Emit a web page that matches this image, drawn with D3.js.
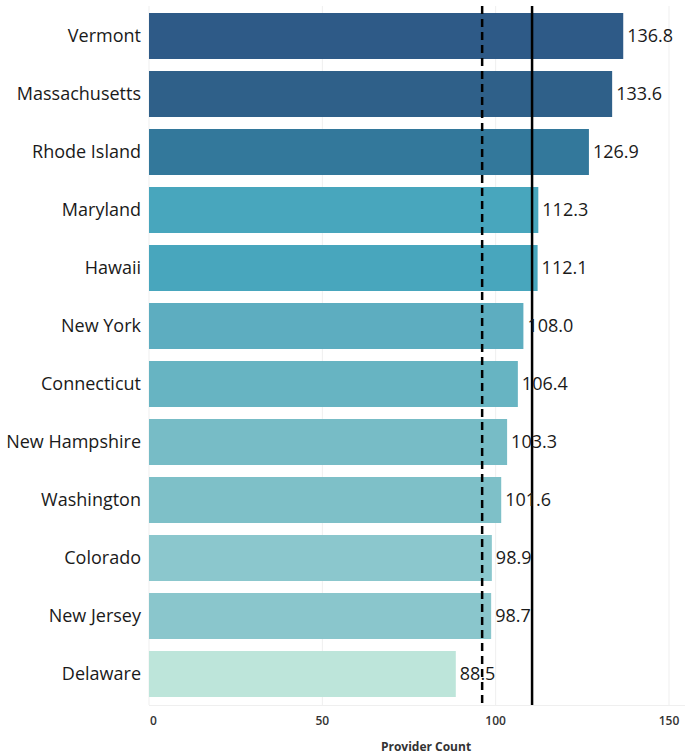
<!DOCTYPE html>
<html>
<head>
<meta charset="utf-8">
<script src="https://cdn.jsdelivr.net/npm/d3@7"></script>
<style>
  body { margin: 0; background: #fff; }
  text { font-family: "Open Sans", sans-serif; }
</style>
</head>
<body>
<div id="chart"></div>
<script>
// data
let states = ["Vermont", "Massachusetts", "Rhode Island", "Maryland", "Hawaii", "New York",
    "Connecticut", "New Hampshire", "Washington", "Colorado", "New Jersey", "Delaware"];
let counts = [136.8, 133.6, 126.9, 112.3, 112.1, 108.0, 106.4, 103.3, 101.6, 98.9, 98.7, 88.5];
let barColors = ["#2e5a87", "#2f6089", "#33789b", "#48a6bd", "#48a6bd", "#5dadc0",
    "#67b4c2", "#77bcc6", "#7ec0c8", "#8bc7cd", "#8ac6cc", "#bde5da"];
let xTicks = [0, 50, 100, 150];
let refLines = [{ value: 96.1, dash: "8,5" }, { value: 110.5, dash: null }];

let width = 685, height = 755;
let margin = { left: 149, right: 16, top: 7, bottom: 52 };

let svg = d3.select("#chart")
    .append("svg")
    .attr("width", width)
    .attr("height", height);

let x = d3.scaleLinear()
    .domain([0, 150])
    .range([margin.left, 669]);

let y = d3.scaleBand()
    .domain(states)
    .range([margin.top, height - margin.bottom])
    .paddingInner(0.207)
    .paddingOuter(0.1035);

// grid
svg.append("g")
    .selectAll("line")
    .data(xTicks)
    .enter()
    .append("line")
    .attr("x1", d => x(d))
    .attr("x2", d => x(d))
    .attr("y1", 6)
    .attr("y2", 705)
    .attr("stroke", "#efefef")
    .attr("stroke-width", 1);

svg.append("line")
    .attr("x1", x(0))
    .attr("x2", width)
    .attr("y1", 705.5)
    .attr("y2", 705.5)
    .attr("stroke", "#efefef");

// bars
svg.append("g")
    .selectAll("rect")
    .data(states)
    .enter()
    .append("rect")
    .attr("x", x(0))
    .attr("y", d => y(d))
    .attr("width", (d, i) => x(counts[i]) - x(0))
    .attr("height", y.bandwidth())
    .attr("fill", (d, i) => barColors[i]);

// state labels
svg.append("g")
    .selectAll("text")
    .data(states)
    .enter()
    .append("text")
    .attr("x", 141)
    .attr("y", d => y(d) + y.bandwidth() / 2)
    .attr("dy", "0.35em")
    .style("text-anchor", "end")
    .style("font-size", "18px")
    .attr("fill", "#1a1a1a")
    .text(d => d);

// reference lines
svg.append("g")
    .selectAll("line")
    .data(refLines)
    .enter()
    .append("line")
    .attr("x1", d => x(d.value))
    .attr("x2", d => x(d.value))
    .attr("y1", 6)
    .attr("y2", 705)
    .attr("stroke", "#000")
    .attr("stroke-width", 2.5)
    .attr("stroke-dasharray", d => d.dash);

// value labels
svg.append("g")
    .selectAll("text")
    .data(states)
    .enter()
    .append("text")
    .attr("x", (d, i) => x(counts[i]) + 4)
    .attr("y", d => y(d) + y.bandwidth() / 2)
    .attr("dy", "0.35em")
    .style("font-size", "18px")
    .attr("fill", "#1a1a1a")
    .text((d, i) => counts[i].toFixed(1));

// x axis tick labels
svg.append("g")
    .selectAll("text")
    .data(xTicks)
    .enter()
    .append("text")
    .attr("x", d => d === 0 ? x(d) + 1 : x(d))
    .attr("y", 725)
    .style("text-anchor", d => d === 0 ? "start" : "middle")
    .style("font-size", "12px")
    .style("font-weight", "600")
    .attr("fill", "#333")
    .text(d => d);

svg.append("text")
    .attr("x", 426)
    .attr("y", 751)
    .style("text-anchor", "middle")
    .style("font-size", "12px")
    .style("font-weight", "bold")
    .attr("fill", "#333")
    .text("Provider Count");
</script>
</body>
</html>
